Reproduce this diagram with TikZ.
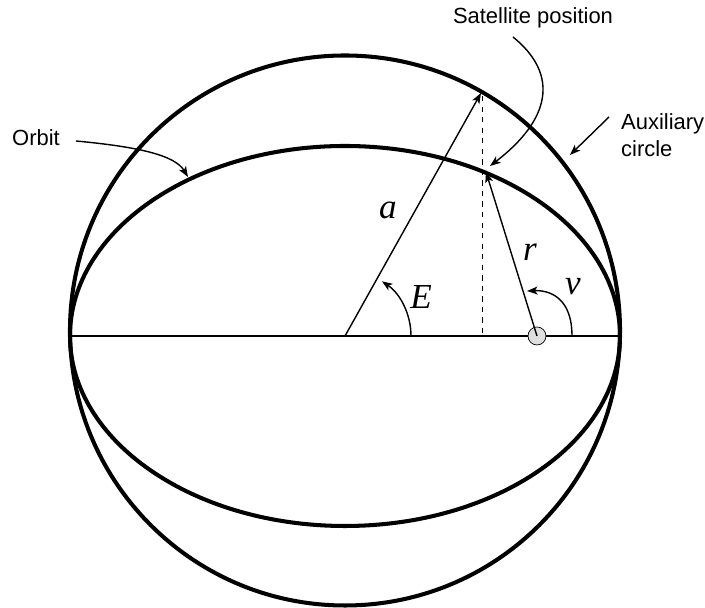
\documentclass[tikz,border=0pt]{standalone}
\usepackage{fontspec}
\setmainfont{Liberation Sans}
\newfontfamily\letterfont{Liberation Serif}
\newcommand\sym[1]{{\fontsize{20}{22}\selectfont\letterfont\itshape #1}}
\usetikzlibrary{arrows.meta}
\begin{document}
\begin{tikzpicture}[>={Stealth[length=6pt,width=4.5pt,inset=1.5pt]}]
\useasboundingbox (0,0) rectangle (14.1,12.16);
\tikzset{txt/.style={font=\fontsize{12.5}{15}\selectfont}}
% auxiliary circle and orbit
\draw[line width=2.3pt] (6.9,5.55) circle (5.5);
\draw[line width=2.3pt] (6.9,5.44) ellipse (5.5 and 3.8);
\coordinate (O) at (6.9,5.44);
\coordinate (L) at (1.4,5.44);
\coordinate (R) at (12.4,5.44);
\coordinate (Q) at (9.62,10.3);
\coordinate (Qb) at (9.64,5.44);
\coordinate (S) at (9.72,8.72);
\draw[line width=1.1pt] (L) -- (R);
\draw[thick,->] (O) -- (Q);
\draw[dashed] (9.64,10.24) -- (Qb);
\node[circle,draw,fill=gray!25,inner sep=0pt,minimum size=0.36cm] (F) at (10.74,5.44) {};
\draw[thick,->] (F.center) -- (S);
% angles
\coordinate (E0) at (8.22,5.44);
\draw[thick,->] (E0) arc (0:56:1.32);
\coordinate (n0) at (11.44,5.44);
\coordinate (n1) at (10.54,6.34);
\draw[thick,->] (n0) .. controls (11.44,6.2) and (11.0,6.36) .. (n1);
\node (lblA) at (7.76,7.96) {\sym{a}};
\node (lblR) at (10.6,7.12) {\sym{r}};
\node (lblE) at (8.42,6.22) {\sym{E}};
\node (lblNu) at (11.46,6.42) {\sym{ν}};
% labels and pointers
\node[txt] (sat) at (10.66,11.8) {Satellite position};
\node[txt] (orb) at (0.72,9.4) {Orbit};
\node[txt,align=left,anchor=west] (aux) at (12.3,9.46) {Auxiliary\\circle};
\coordinate (satTail) at (10.26,11.42);
\coordinate (satTip) at (9.8,8.84);
\draw[thick,->] (satTail) .. controls (11.2,10.66) and (11.0,9.76) .. (satTip);
\coordinate (orbTail) at (1.52,9.34);
\coordinate (orbTip) at (3.76,8.62);
\draw[thick,->] (orbTail) .. controls (2.8,9.22) and (3.5,9.05) .. (orbTip);
\coordinate (auxTail) at (12.18,9.82);
\coordinate (auxTip) at (11.4,9.06);
\draw[thick,->] (auxTail) -- (auxTip);
\end{tikzpicture}
\end{document}
